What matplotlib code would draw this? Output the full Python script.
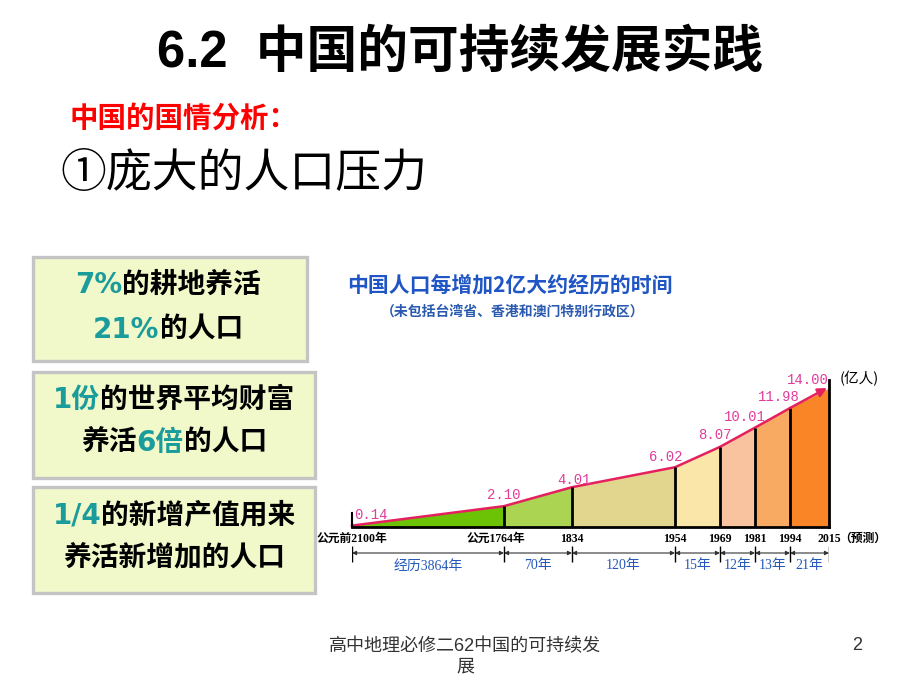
import matplotlib
matplotlib.use("Agg")
import matplotlib.pyplot as plt
from matplotlib.patches import Rectangle

# data
years = ["公元前2100年", "公元1764年", "1834", "1954", "1969", "1981", "1994", "2015"]
population = [0.14, 2.10, 4.01, 6.02, 8.07, 10.01, 11.98, 14.00]
spans = ["经历3864年", "70年", "120年", "15年", "12年", "13年", "21年"]

# layout: drawn width of each period (the picture is not to scale)
seg_width = [152, 68, 103, 45, 35, 35, 39]
seg_colors = ["#6cc204", "#aad452", "#e2d68e", "#f9e6a8", "#f9c3a0", "#f9aa62", "#f98526"]
label_shift = [(2, 11), (0, 11), (2, 7), (-9, 10), (-5, 12), (-10, 11), (-11, 11), (-21, 8)]

W, H = 920, 690
CJK = "Noto Sans CJK SC"
plt.rcParams["font.family"] = [CJK, "DejaVu Sans"]

fig = plt.figure(figsize=(W / 100, H / 100), dpi=100)
fig.patch.set_facecolor("white")


def fx(x):
    return x / W


def fy(y):
    return 1 - y / H


# slide headings
fig.text(fx(460), fy(53), "6.2  中国的可持续发展实践", fontsize=36.5, fontweight="bold",
         family=["Liberation Sans", CJK], ha="center", va="center")
fig.text(fx(70), fy(119), "中国的国情分析：", fontsize=20.5, fontweight="bold",
         color="#ff0000", ha="left", va="center")
fig.text(fx(60), fy(174), "①庞大的人口压力", fontsize=33, ha="left", va="center")

# left boxes
boxes = [(33, 257, 307, 361), (33, 372, 315, 478), (33, 487, 315, 593)]
for x0, y0, x1, y1 in boxes:
    fig.add_artist(Rectangle((fx(x0), fy(y1)), fx(x1 - x0), (y1 - y0) / H,
                             transform=fig.transFigure, facecolor="#f1f8c9",
                             edgecolor="#c4c4c4", linewidth=2.4))

teal = "#1a9c9c"
box_lines = [
    (168, 285, [("7%", teal), ("的耕地养活", "black")]),
    (168, 330, [("21%", teal), ("的人口", "black")]),
    (174, 400, [("1份", teal), ("的世界平均财富", "black")]),
    (174, 443, [("养活", "black"), ("6倍", teal), ("的人口", "black")]),
    (174, 515, [("1/4", teal), ("的新增产值用来", "black")]),
    (174, 558, [("养活新增加的人口", "black")]),
]
renderer = fig.canvas.get_renderer()
for cx, cy, runs in box_lines:
    parts = []
    for s, c in runs:
        t = fig.text(0, fy(cy), s, color=c, fontsize=20, fontweight="bold",
                     family=["DejaVu Sans", CJK], ha="left", va="center")
        parts.append(t)
    widths = [t.get_window_extent(renderer).width for t in parts]
    x = cx - sum(widths) / 2
    for t, w in zip(parts, widths):
        t.set_x(fx(x))
        x += w

# chart titles
fig.text(fx(347), fy(285), "中国人口每增加2亿大约经历的时间", fontsize=15,
         fontweight="bold", color="#1f55c4", ha="left", va="center")
fig.text(fx(381), fy(312), "（未包括台湾省、香港和澳门特别行政区）", fontsize=10,
         fontweight="bold", color="#2a5ab0", ha="left", va="center")

# chart axes
xpos = [0]
for w in seg_width:
    xpos.append(xpos[-1] + w)
ax = fig.add_axes([fx(352), fy(527), fx(xpos[-1]), 139 / H])
ax.set_xlim(0, xpos[-1])
ax.set_ylim(0, 14)
ax.axis("off")

for i, c in enumerate(seg_colors):
    ax.fill_between(xpos[i:i + 2], population[i:i + 2], 0, color=c, lw=0)

line_color = "#e4205e"
ax.plot(xpos[:-1], population[:-1], color=line_color, lw=1.8, clip_on=False)
ax.annotate("", xy=(xpos[-1] - 2, population[-1]), xytext=(xpos[-2], population[-2]),
            arrowprops=dict(arrowstyle="-|>", color=line_color, lw=1.8,
                            mutation_scale=13, shrinkA=0, shrinkB=0))
ax.vlines(xpos[1:-1], 0, population[1:-1], color="black", lw=2)
ax.plot([xpos[-1], xpos[-1]], [0, 14.8], color="black", lw=2, clip_on=False)
ax.plot([0, 0], [0, 1.4], color="black", lw=1.5, clip_on=False)
ax.plot([0, xpos[-1]], [0, 0], color="black", lw=2, clip_on=False)

for i, (x, v) in enumerate(zip(xpos, population)):
    dx, dy = label_shift[i]
    ax.annotate(f"{v:.2f}", xy=(x, v), xytext=(dx * 0.72, dy * 0.72),
                textcoords="offset points", ha="left" if i == 0 else "center",
                va="center", fontsize=10, color="#e03c9a", family="Liberation Mono",
                annotation_clip=False)
ax.annotate("(亿人)", xy=(xpos[-1], 14), xytext=(8, 7), textcoords="offset points",
            ha="left", va="center", fontsize=10.5, annotation_clip=False)

# axis below: years and time spans (y in pixels under the baseline)
axd = fig.add_axes([fx(352), fy(575), fx(xpos[-1]), 48 / H])
axd.set_xlim(0, xpos[-1])
axd.set_ylim(48, 0)
axd.axis("off")

year_font = ["Liberation Serif", CJK]
for i, (x, s) in enumerate(zip(xpos, years)):
    shift = -8 if i == 1 else 0
    axd.text(x + shift, 12, s, ha="center", va="center", fontsize=8.5,
             fontweight="bold", family=year_font, clip_on=False)
axd.text(xpos[-1] + 10, 12, "（预测）", ha="left", va="center", fontsize=8.5,
         fontweight="bold", family=year_font, clip_on=False)

axd.vlines(xpos, 19, 35, color="black", lw=1)
for i, s in enumerate(spans):
    axd.annotate("", xy=(xpos[i + 1], 26), xytext=(xpos[i], 26),
                 arrowprops=dict(arrowstyle="<|-|>", color="#333333", lw=0.8,
                                 mutation_scale=6, shrinkA=0, shrinkB=0))
    axd.text((xpos[i] + xpos[i + 1]) / 2, 39, s, ha="center", va="center",
             fontsize=10, color="#2358b8", family=year_font, clip_on=False)

# footer
fig.text(fx(465), fy(638), "高中地理必修二62中国的可持续发\n展", fontsize=13,
         color="#333333", family=["Liberation Sans", CJK], ha="center", va="top",
         multialignment="center", linespacing=1.25)
fig.text(fx(857), fy(645), "2", fontsize=13, color="#333333", family="Liberation Sans",
         ha="center", va="center")

fig.savefig("out.png", dpi=100, facecolor="white")
